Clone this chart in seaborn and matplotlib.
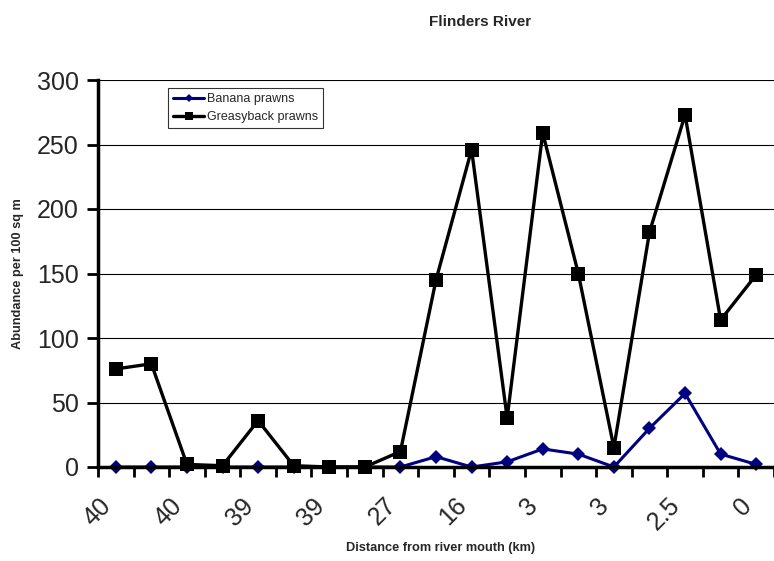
import numpy as np
import pandas as pd
import matplotlib
matplotlib.use("Agg")
import matplotlib.pyplot as plt
import matplotlib.transforms as mtransforms
import seaborn as sns

sns.set_theme(style="white")
plt.rcParams['font.family'] = ['Liberation Sans', 'DejaVu Sans']

# Data (one value per sampling site, upstream -> mouth)
site_labels = ["40", "40", "39", "39", "27", "16", "3", "3", "2.5", "0"]
banana = [0, 0, 0, 0, 0, 0, 0, 0, 0, 8, 0, 4, 14, 10, 0, 30, 57, 10, 2]
greasyback = [76, 80, 2, 1, 36, 1, 0, 0, 12, 145, 246, 38, 259, 150, 15, 182, 273, 114, 149]

site = np.arange(len(greasyback))
df = pd.DataFrame({"site": site, "Banana prawns": banana, "Greasyback prawns": greasyback})

fig = plt.figure(figsize=(7.74, 5.61), dpi=100)
ax = fig.add_axes([98 / 774, 1 - 467 / 561, (774 - 98) / 774, (467 - 80) / 561])

sns.lineplot(data=df, x="site", y="Banana prawns", ax=ax, color="#000080",
             marker="D", markersize=7, markeredgewidth=0, linewidth=2.2,
             label="Banana prawns", sort=False)
sns.lineplot(data=df, x="site", y="Greasyback prawns", ax=ax, color="black",
             marker="s", markersize=10, markeredgewidth=0, linewidth=2.4,
             label="Greasyback prawns", sort=False)
for ln in ax.lines:
    ln.set_clip_on(False)

ax.set_ylim(0, 300)
ax.set_xlim(-0.5, 18.33)
ax.set_yticks(range(0, 301, 50))
ax.yaxis.grid(True, color="black", linewidth=0.8)
ax.set_axisbelow(True)

# category boundaries carry the tick marks, every second site gets a label
ax.set_xticks(np.arange(-0.5, len(site), 1.0))
ax.set_xticklabels([])
ax.set_xticks(site[::2], minor=True)
ax.set_xticklabels(site_labels, minor=True, rotation=45, ha="right", va="top",
                   fontsize=18)
shift = mtransforms.ScaledTranslation(-0.09, 0, fig.dpi_scale_trans)
for lab in ax.get_xticklabels(minor=True):
    lab.set_transform(lab.get_transform() + shift)
ax.tick_params(axis="x", which="major", direction="out", length=7, width=2,
               color="black", bottom=True)
ax.tick_params(axis="x", which="minor", length=0, pad=19)
ax.tick_params(axis="y", direction="out", length=8, width=2, color="black",
               labelsize=18, pad=6, left=True)

for side in ["top", "right"]:
    ax.spines[side].set_visible(False)
for side in ["left", "bottom"]:
    ax.spines[side].set_color("black")
    ax.spines[side].set_linewidth(2.5)

ax.set_xlabel("")
ax.set_ylabel("")
fig.text(18 / 774, 1 - 274 / 561, "Abundance per 100 sq m", rotation=90,
         ha="center", va="center", fontsize=9.2, fontweight="bold")
fig.text(441 / 774, 1 - 548 / 561, "Distance from river mouth (km)",
         ha="center", va="center", fontsize=9.2, fontweight="bold")
fig.text(480 / 774, 1 - 22 / 561, "Flinders River",
         ha="center", va="center", fontsize=11, fontweight="bold")

leg = ax.legend(loc="upper left", bbox_to_anchor=((168 - 98) / 676, 1 - (88 - 80) / 387),
                fontsize=9, frameon=True, fancybox=False, borderpad=0.4,
                handlelength=2.5, handletextpad=0.2, labelspacing=0.5,
                borderaxespad=0, markerscale=0.6)
leg.get_frame().set_edgecolor("black")
leg.get_frame().set_linewidth(0.8)

fig.savefig("out.png", dpi=100)
